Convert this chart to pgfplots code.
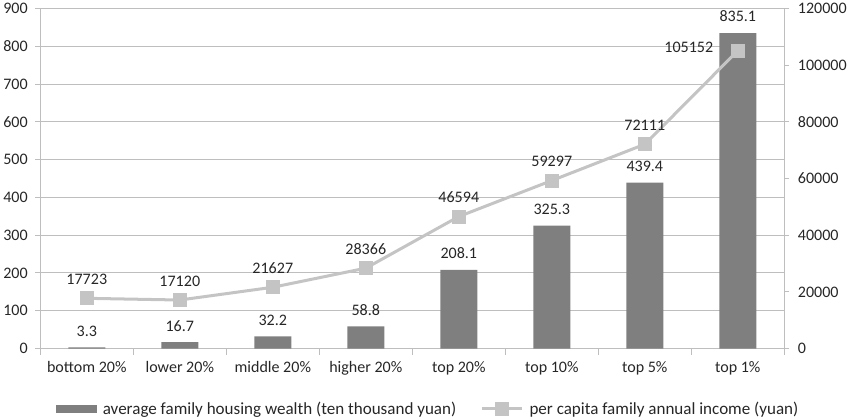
\documentclass[border=0pt]{standalone}
\usepackage{fontspec}
\setmainfont{Carlito}
\usepackage{pgfplots}
\pgfplotsset{compat=1.18}
\definecolor{barcol}{HTML}{7F7F7F}
\definecolor{linecol}{HTML}{C4C4C4}
\definecolor{gridcol}{HTML}{BEBEBE}
\definecolor{txt}{HTML}{262626}

\begin{document}
\begin{tikzpicture}[font=\fontsize{16}{19}\selectfont]
\pgfplotsset{
  every axis/.append style={
    scale only axis, width=742pt, height=339pt,
    xmin=-0.5, xmax=7.5,
    tick align=outside, major tick length=5pt,
    /pgf/number format/assume math mode=true,
    tick label style={text=txt, font=\fontsize{16}{19}\selectfont},
    axis line style={gridcol, line width=1pt},
    tick style={gridcol, line width=1pt},
  }
}
% left axis: housing wealth (bars)
\begin{axis}[
  ymin=0, ymax=900, ytick={0,100,...,900},
  axis y line*=left, axis x line*=bottom,
  ymajorgrids, grid style={gridcol, line width=1pt},
  xtick={0,...,7},
  xticklabels={bottom 20\%, lower 20\%, middle 20\%, higher 20\%, top 20\%, top 10\%, top 5\%, top 1\%},
  major x tick style={draw=none},
  minor xtick={-0.5,0.5,...,7.5}, minor tick length=6pt,
  yticklabel style={xshift=-4pt},
  xticklabel style={yshift=-4pt},
]
\addplot[ybar, bar width=37pt, fill=barcol, draw=none,
  nodes near coords, point meta=explicit symbolic,
  every node near coord/.append style={text=txt, yshift=7.5pt}]
  coordinates {
    (0,3.3)[3.3] (1,16.7)[16.7] (2,32.2)[32.2] (3,58.8)[58.8]
    (4,208.1)[208.1] (5,325.3)[325.3] (6,439.4)[439.4] (7,835.1)[835.1]
  };
\end{axis}
% right axis: income (line)
\begin{axis}[
  ymin=0, ymax=120000, ytick={0,20000,...,120000},
  yticklabels={0,20000,40000,60000,80000,100000,120000},
  scaled y ticks=false,
  axis y line*=right, axis x line=none,
  yticklabel style={xshift=5pt},
  legend style={draw=none, fill=none, legend columns=2,
    at={(0.5,0)}, anchor=center, yshift=-60pt, xshift=16pt,
    font=\fontsize{17}{20}\selectfont, text=txt,
    /tikz/every odd column/.append style={column sep=4pt},
    /tikz/every even column/.append style={column sep=22pt}},
]
\addlegendimage{legend image code/.code={\fill[barcol] (0pt,-3.5pt) rectangle (40pt,3.5pt);}}
\addlegendentry{average family housing wealth (ten thousand yuan)}
\addplot[linecol, line width=3pt, mark=square*, mark size=5.5pt,
  mark options={linecol, solid},
  legend image code/.code={\draw[linecol, line width=3pt] (0pt,0pt) -- (40pt,0pt);
    \fill[linecol] (14.5pt,-5.5pt) rectangle (25.5pt,5.5pt);},
  nodes near coords, point meta=explicit symbolic,
  every node near coord/.append style={text=txt, yshift=9pt}]
  coordinates {
    (0,17723)[17723] (1,17120)[17120] (2,21627)[21627] (3,28366)[28366]
    (4,46594)[46594] (5,59297)[59297] (6,72111)[72111] (7,105152)[]
  };
\addlegendentry{per capita family annual income (yuan)}
\addplot[draw=none, forget plot, nodes near coords, point meta=explicit symbolic,
  every node near coord/.append style={text=txt, anchor=east, xshift=-21pt, yshift=3pt}]
  coordinates {(7,105152)[105152]};
\end{axis}
\end{tikzpicture}
\end{document}
